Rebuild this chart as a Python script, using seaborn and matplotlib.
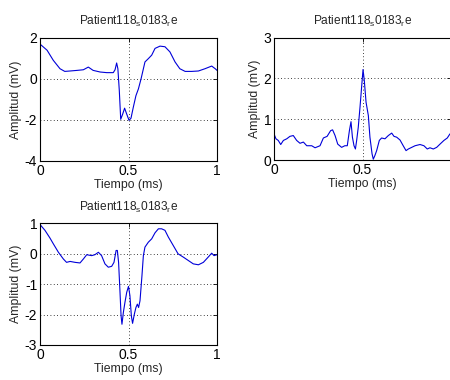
import matplotlib
matplotlib.use("Agg")
import matplotlib.pyplot as plt
import seaborn as sns
import pandas as pd

# ---- data ----
t1 = [0, 0.04, 0.075, 0.113, 0.14, 0.17, 0.21, 0.245, 0.273, 0.30, 0.34, 0.377, 0.414,
      0.424, 0.433, 0.44, 0.448, 0.456, 0.467, 0.478, 0.49, 0.503, 0.514, 0.527, 0.542,
      0.556, 0.571, 0.593, 0.612, 0.631, 0.65, 0.678, 0.706, 0.734, 0.763, 0.79, 0.82,
      0.857, 0.895, 0.932, 0.97, 0.99, 1.0]
v1 = [1.69, 1.39, 0.9, 0.49, 0.36, 0.38, 0.41, 0.44, 0.57, 0.41, 0.33, 0.30, 0.30,
      0.44, 0.77, 0.49, -0.57, -1.97, -1.72, -1.43, -1.72, -2.02, -1.92, -1.39, -0.82,
      -0.49, 0.0, 0.82, 0.98, 1.15, 1.48, 1.59, 1.56, 1.31, 0.82, 0.49, 0.36,
      0.36, 0.38, 0.49, 0.62, 0.49, 0.41]

t2 = [0, 0.011, 0.024, 0.038, 0.053, 0.072, 0.09, 0.109, 0.128, 0.147, 0.166, 0.185,
      0.213, 0.232, 0.26, 0.279, 0.30, 0.32, 0.331, 0.345, 0.36, 0.382, 0.40, 0.414,
      0.426, 0.435, 0.443, 0.452, 0.46, 0.467, 0.476, 0.486, 0.495, 0.503, 0.51, 0.52,
      0.533, 0.542, 0.554, 0.561, 0.57, 0.58, 0.595, 0.608, 0.627, 0.646, 0.665, 0.678,
      0.693, 0.712, 0.73, 0.746, 0.759, 0.778, 0.797, 0.825, 0.847, 0.866, 0.881, 0.9,
      0.919, 0.938, 0.96, 0.979, 0.994]
v2 = [0.64, 0.52, 0.48, 0.38, 0.48, 0.52, 0.58, 0.60, 0.48, 0.41, 0.44, 0.35,
      0.35, 0.30, 0.35, 0.54, 0.58, 0.72, 0.74, 0.60, 0.39, 0.31, 0.35, 0.35,
      0.72, 0.94, 0.56, 0.35, 0.27, 0.48, 0.80, 1.30, 1.79, 2.22, 1.96, 1.42,
      1.09, 0.56, 0.15, 0.02, 0.11, 0.23, 0.48, 0.54, 0.52, 0.60, 0.66, 0.58,
      0.56, 0.49, 0.35, 0.23, 0.27, 0.31, 0.35, 0.38, 0.35, 0.27, 0.30, 0.27,
      0.31, 0.39, 0.48, 0.54, 0.64]

t3 = [0, 0.028, 0.047, 0.056, 0.075, 0.104, 0.132, 0.15, 0.17, 0.198, 0.226, 0.245,
      0.264, 0.292, 0.31, 0.33, 0.348, 0.367, 0.386, 0.405, 0.418, 0.43, 0.437, 0.444,
      0.452, 0.458, 0.463, 0.471, 0.48, 0.49, 0.50, 0.508, 0.516, 0.523, 0.533, 0.542,
      0.55, 0.557, 0.565, 0.576, 0.584, 0.593, 0.612, 0.631, 0.65, 0.669, 0.687, 0.706,
      0.725, 0.753, 0.78, 0.81, 0.838, 0.866, 0.895, 0.923, 0.95, 0.97, 0.983, 1.0]
v3 = [0.95, 0.76, 0.59, 0.51, 0.32, 0.04, -0.18, -0.29, -0.26, -0.29, -0.31, -0.18,
      -0.04, -0.07, -0.04, 0.04, -0.07, -0.34, -0.45, -0.42, -0.29, 0.10, 0.10, -0.29,
      -1.27, -2.04, -2.32, -1.93, -1.60, -1.27, -1.08, -1.38, -2.04, -2.29, -1.99, -1.77,
      -1.66, -1.77, -1.55, -0.73, -0.07, 0.21, 0.37, 0.48, 0.68, 0.81, 0.81, 0.76,
      0.54, 0.26, -0.01, -0.12, -0.23, -0.34, -0.37, -0.29, -0.12, 0.01, -0.07, -0.04]

title = "Patient118$_\\mathregular{s}$0183$_\\mathregular{r}$e"
xlabel = "Tiempo (ms)"
ylabel = "Amplitud (mV)"
xticks = [0, 0.5, 1]
xticklabels = ["0", "0.5", "1"]
yticks1 = [-4, -2, 0, 2]
yticks2 = [0, 1, 2, 3]
yticks3 = [-3, -2, -1, 0, 1]

sns.set_style("white")
plt.rcParams['font.family'] = ['Liberation Sans', 'DejaVu Sans']
plt.rcParams['mathtext.fontset'] = 'custom'
plt.rcParams['mathtext.rm'] = 'Liberation Sans'

fig = plt.figure(figsize=(4.5, 3.8), dpi=100)
fig.patch.set_facecolor('white')

specs = [
    ([40/450, 1-161/380, 177/450, 123.3/380], t1, v1, yticks1, xticklabels),
    ([274/450, 1-160/380, 177/450, 122.3/380], t2, v2, yticks2, ["0", "0.5", ""]),
    ([40/450, 1-345/380, 177/450, 122/380], t3, v3, yticks3, xticklabels),
]

for rect, t, v, yt, xtl in specs:
    ax = fig.add_axes(rect)
    df = pd.DataFrame({"t": t, "v": v})
    sns.lineplot(data=df, x="t", y="v", ax=ax, color=(0.0, 0.0, 0.85), lw=0.8,
                 estimator=None, sort=False)
    ax.set_xlim(0, 1)
    ax.set_ylim(yt[0], yt[-1])
    ax.set_xticks(xticks)
    ax.set_xticklabels(xtl)
    ax.set_yticks(yt)
    ax.set_yticklabels([str(y) for y in yt])
    ax.grid(True, linestyle=(0, (1, 3)), color='black', lw=0.6)
    ax.tick_params(direction='in', length=3, width=0.6, labelsize=10, pad=2,
                   top=True, right=True, colors='black')
    for s in ax.spines.values():
        s.set_color('black')
        s.set_linewidth(0.8)
    ax.set_title(title, fontsize=8.6, pad=9)
    ax.set_xlabel(xlabel, fontsize=8.8, labelpad=1)
    ax.set_ylabel(ylabel, fontsize=8.8, labelpad=2)

fig.savefig("out.png", dpi=100, facecolor='white')
